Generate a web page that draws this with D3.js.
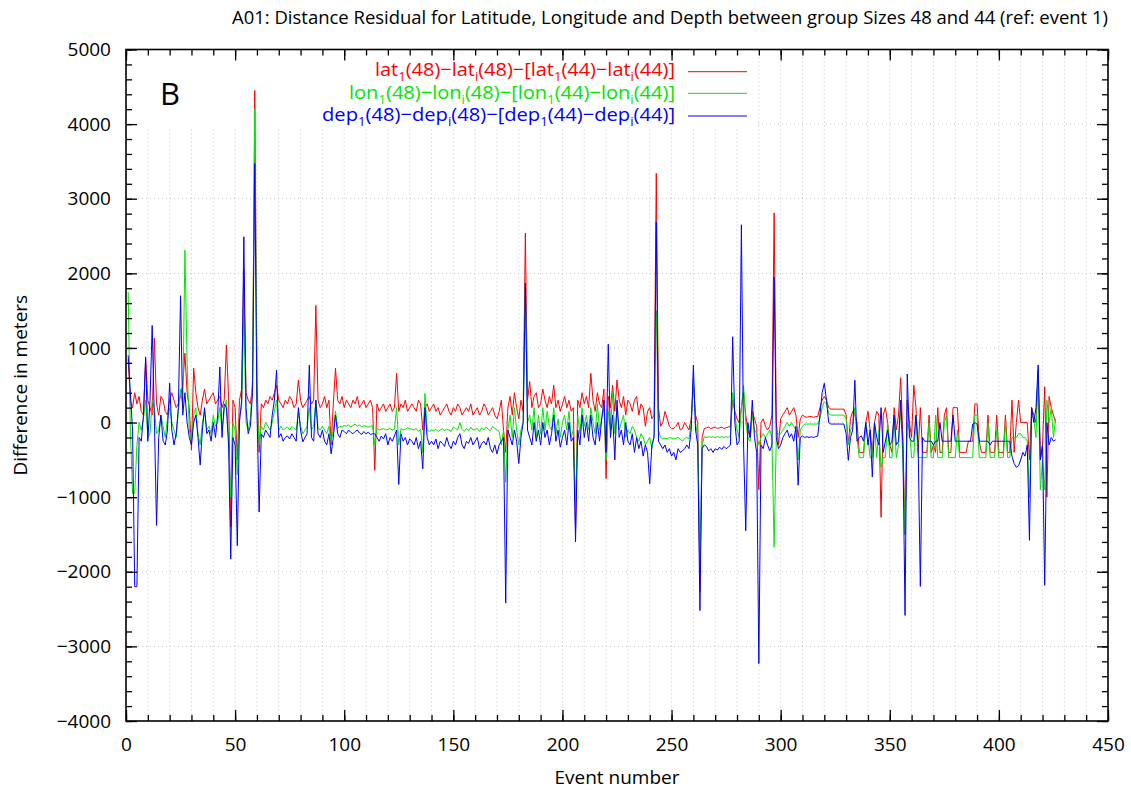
<!DOCTYPE html>
<html>
<head>
<meta charset="utf-8">
<script src="https://cdn.jsdelivr.net/npm/d3@7"></script>
<style>
    body { margin: 0; background: #fff; }
    text { font-family: "Open Sans", "DejaVu Sans", sans-serif; }
</style>
</head>
<body>
<svg id="chart" width="1131" height="790"></svg>
<script>
// tick values
const xTicks = [0, 50, 100, 150, 200, 250, 300, 350, 400, 450];
const yTicks = [-4000, -3000, -2000, -1000, 0, 1000, 2000, 3000, 4000, 5000];

// events 1..426
const eventNumbers = d3.range(1, 427);

// lat1(48)-lati(48)-[lat1(44)-lati(44)]
const latResidual = [
    850, 300, 200, 400, 250, 350, 150, 100, 850, 300,
    200, 100, 1130, 250, 100, 350, 300, 150, 100, 300,
    400, 300, 200, 250, 350, 500, 930, 400, 200, -370,
    730, 400, 200, 100, 300, 450, 250, 300, 350, 400,
    250, 300, 350, 200, 300, 1040, 350, -1400, 300, 200,
    -500, 300, 450, 2050, 400, 300, 250, 500, 4450, 600,
    -400, 250, 200, 300, 250, 350, 300, 400, 500, 300,
    250, 200, 300, 250, 350, 300, 200, 250, 570, 300,
    200, 250, 300, 350, 250, 300, 1570, 300, 200, 250,
    350, 200, 300, -300, 250, 730, 300, 250, 350, 200,
    300, 250, 200, 300, 250, 350, 200, 250, 300, 200,
    250, 300, 200, -640, 250, 150, 200, 250, 150, 200,
    250, 150, 200, 660, 150, 250, 200, 300, 150, 200,
    250, 200, 150, 300, 250, -100, 200, 250, 150, 200,
    250, 150, 200, 100, 150, 200, 250, 150, 100, 200,
    150, 250, 200, 100, 150, 200, 150, 250, 100, 150,
    200, 100, 150, 250, 200, 100, 150, 200, 100, 50,
    150, 300, -100, -400, 200, 350, 100, 400, 200, 50,
    300, 150, 2540, 300, 550, 200, 350, 400, 200, 250,
    450, 300, 200, 350, 250, 500, 200, 300, 150, 250,
    350, 200, 300, 150, 200, -1450, 300, 200, 400, 250,
    350, 200, 660, 300, 150, 400, 250, 200, 450, -750,
    350, 200, 500, 150, 570, 300, 200, 350, 100, 300,
    250, 150, 300, 350, 100, 250, 200, -50, 150, 200,
    50, 100, 3340, 200, -50, 0, 150, 50, -50, -80,
    -80, -50, 0, -100, -80, 0, -50, -100, 50, 500,
    100, 0, -2270, -200, -80, -70, -60, -80, -70, -60,
    -80, -70, -60, -80, -70, -60, -50, 300, 150, 50,
    0, 200, 400, 100, -100, -200, 150, 50, -50, -900,
    0, 50, -50, -100, -50, 100, 2810, 0, -300, 50,
    100, 150, 200, 100, 150, 200, 100, -200, 50, 100,
    80, 70, 80, 80, 70, 80, 80, 200, 300, 350,
    300, 200, 180, 180, 180, 180, 180, 180, 180, 100,
    -300, 50, 150, 100, 0, -400, -400, -400, 0, 150,
    -100, -400, 0, 150, 100, -1270, 100, 200, 0, -300,
    -400, 200, -100, 100, 600, -200, -1500, 300, 0, -200,
    500, 200, -400, 200, -400, -400, -400, 100, -400, -300,
    -400, 200, -400, -400, 100, 200, -400, -400, 200, 200,
    200, -400, -400, -400, -400, -250, -250, -250, 250, 250,
    -250, -400, -400, -400, 100, -400, -400, -400, 100, -400,
    -400, -400, 100, -400, -400, 300, -400, 0, 300, 0,
    0, 0, 0, -500, 200, 100, 0, 700, -500, -300,
    480, -1000, 350, 200, 100, 0
];

// lon1(48)-loni(48)-[lon1(44)-loni(44)]
const lonResidual = [
    1750, -100, -950, -950, -300, 0, -100, 50, 300, -200,
    -150, 300, 200, -150, -100, 100, -50, -200, 50, 200,
    0, -100, -200, 150, 450, 200, 2310, 800, -100, -250,
    100, 200, -150, -300, 0, 150, -100, -50, -150, 100,
    -50, 0, 200, -100, 150, 300, -200, -1000, 0, -100,
    -700, 100, 200, 1500, 0, -100, 50, 600, 4200, 300,
    -300, -50, -100, 0, -50, -100, 0, 150, 300, -100,
    -50, -100, -80, -60, -100, -50, -80, -100, 150, -50,
    -150, -100, -50, 200, -100, -50, 300, -80, -100, -50,
    -100, -150, -50, -250, -100, 150, -80, -50, -60, -40,
    -50, -30, -60, -40, -20, -50, -30, -60, -40, -50,
    -60, -50, -40, -300, -80, -100, -90, -80, -100, -90,
    -80, -100, -90, 200, -300, -80, -100, -90, -70, -80,
    -90, -100, -80, -120, -90, -400, 390, -100, -120, -100,
    -110, -90, -120, -100, -80, -110, -90, -100, -120, -60,
    -80, -100, 0, -90, -120, -80, -110, -60, -100, -90,
    -80, -120, -70, -100, -60, -90, -110, -50, -80, -100,
    -120, -300, -100, -800, -100, 100, -200, 200, -100, -300,
    -100, 0, 1800, 0, 100, -100, 200, -200, 100, -150,
    200, -100, 150, -50, -100, 200, -150, 50, -200, 0,
    100, -100, 150, -200, -100, -1200, 100, -150, 200, -50,
    100, -100, 200, 0, -150, 250, -100, 50, 200, -500,
    150, -100, 400, -150, 200, -100, 0, 100, -200, -100,
    -150, -50, -100, -200, -250, -150, -200, -300, -250, -200,
    -350, -150, 1500, -100, -200, -220, -210, -220, -200, -210,
    -220, -210, -200, -220, -250, -210, -200, -220, 0, 600,
    0, -200, -1900, -300, -190, -200, -190, -200, -190, -200,
    -190, -200, -190, -200, -190, -200, -180, 400, 100, -100,
    -200, 200, 500, 0, -200, -250, 100, -100, -150, -300,
    -200, -150, -200, -150, -100, -200, -1670, -200, -150, -150,
    -100, -50, 0, -50, 0, -50, -100, -500, -100, -50,
    -20, -20, -20, -20, -20, -20, -20, 50, 200, 280,
    250, 120, 100, 100, 100, 100, 100, 100, 100, 50,
    -300, -100, -50, 200, -200, -470, -470, -470, 0, -200,
    -470, -470, 0, -470, -100, -600, -470, -470, 0, -470,
    -470, 0, -470, -300, 200, -470, -1500, 0, -100, -470,
    -470, 100, -470, -470, -470, -470, -470, 0, -470, -470,
    100, -470, -470, -470, 0, 100, -470, -470, -470, -470,
    -100, -470, -470, -470, -470, -470, -470, -470, 100, 100,
    -470, -470, -470, -470, 0, -470, -470, -470, -100, -470,
    -470, -470, 0, -470, -470, -200, -200, -200, -150, -150,
    -200, -200, -250, -1000, 100, 50, -200, 700, -900, -500,
    -900, 300, 0, 200, -200, 50
];

// dep1(48)-depi(48)-[dep1(44)-depi(44)]
const depResidual = [
    900, 400, -100, -2200, -2200, -200, -250, 100, 880, -250,
    300, 1300, 50, -1380, -200, 100, -250, -300, -100, 530,
    -100, -300, -150, 200, 1700, 100, 400, 0, -200, -300,
    0, 100, -200, -570, -100, 200, -150, -100, -250, 0,
    -200, 100, 745, -200, 250, 200, -300, -1830, -200, -300,
    -1650, 0, 300, 2490, 200, -150, -50, 400, 3470, 200,
    -1200, -150, -200, -100, -150, -200, 100, 300, 700, -200,
    -150, -250, -200, -180, -220, -150, -200, -250, 200, -100,
    -260, -200, -150, 770, -200, -250, 300, -150, -200, -100,
    -250, -300, -150, -420, -200, 100, -150, -200, -100, -120,
    -150, -100, -130, -150, -120, -100, -140, -160, -120, -150,
    -130, -160, -150, -150, -200, -250, -180, -220, -150, -300,
    -200, -250, -180, -100, -830, -150, -250, -200, -300, -220,
    -250, -300, -200, -350, -250, -620, 200, -200, -300, -250,
    -300, -220, -350, -250, -280, -320, -200, -300, -350, -250,
    -300, -200, -150, -300, -350, -250, -280, -200, -300, -250,
    -200, -350, -280, -250, -300, -200, -350, -400, -300, -420,
    -300, -250, -200, -2420, -100, -200, -300, -100, -250, -550,
    -200, 0, 1870, -100, -200, -300, 0, -250, -100, -300,
    0, -200, -100, -300, -150, 100, -250, -100, -330, -200,
    -100, -300, 0, -250, -200, -1600, -100, -300, 100, -200,
    0, -250, 100, -200, -300, 0, -250, 50, 300, -400,
    1050, -200, 100, -500, 300, -200, -100, -300, 0, -250,
    -300, -150, -400, -200, -350, -250, -450, -300, -400, -820,
    -300, -200, 2690, -250, -300, -350, -300, -400, -350, -450,
    -400, -500, -350, -400, -380, -350, -300, -350, -100, 770,
    -100, -300, -2520, -350, -300, -320, -380, -350, -400, -350,
    -370, -330, -360, -320, -350, -330, -300, 1150, 0, -300,
    -250, 2650, -300, -1450, 0, -200, 300, -200, -400, -3230,
    -300, -350, -200, -300, -380, -300, 1950, -200, -350, -300,
    -200, -150, -100, -200, -150, -250, -50, -840, -200, -180,
    -200, -190, -200, -190, -200, -190, -180, 100, 400, 527,
    300, 0, -20, -20, -20, -20, -20, -20, -20, -150,
    -506, -200, -100, 567, -250, -200, -180, -250, 0, -300,
    -100, -730, 0, -200, -300, 200, -400, -250, -100, -300,
    -250, 100, -300, -250, 300, -300, -2585, 650, -200, -250,
    -250, 100, -300, -2196, -200, -250, -250, -250, -250, -300,
    -250, -250, 0, -250, -250, -250, -250, -250, 100, -250,
    -250, -250, -250, -250, -250, -250, -250, -20, 0, -20,
    -250, -250, -250, -250, -250, -300, -250, -250, -250, -250,
    -250, -250, -250, -250, -250, -450, -550, -600, -580, -500,
    -400, -450, -300, -1578, 200, 0, 200, 770, -500, -300,
    -2182, 0, -300, -200, -250, -230
];

const seriesColors = ["#ff0000", "#00e600", "#0000ff"];
const legendNames = ["lat", "lon", "dep"];

const svg = d3.select("#chart");
const plotLeft = 126, plotRight = 1108, plotTop = 49.5, plotBottom = 721;

const x = d3.scaleLinear().domain([0, 450]).range([plotLeft, plotRight]);
const y = d3.scaleLinear().domain([-4000, 5000]).range([plotBottom, plotTop]);

svg.append("rect").attr("width", 1131).attr("height", 790).attr("fill", "#fff");

// dotted grid: every 10 events, every 1000 m
const grid = svg.append("g").attr("class", "grid")
    .attr("stroke", "#b4b4b4").attr("stroke-width", 0.8).attr("stroke-dasharray", "1,3");
grid.selectAll(".vg").data(d3.range(10, 450, 10)).join("line")
    .attr("x1", d => x(d)).attr("x2", d => x(d))
    .attr("y1", plotTop).attr("y2", plotBottom);
grid.selectAll(".hg").data(yTicks.slice(1, -1)).join("line")
    .attr("x1", plotLeft).attr("x2", plotRight)
    .attr("y1", d => y(d)).attr("y2", d => y(d));

// key box hides the grid in the top left
svg.append("rect")
    .attr("x", plotLeft).attr("y", plotTop)
    .attr("width", 755 - plotLeft).attr("height", 127 - plotTop)
    .attr("fill", "#fff");

// legend
const legendY = [76, 98.5, 121];
const lineY = [71.7, 93.3, 116];
const legendWidth = [300, 326, 353];
legendNames.forEach((name, k) => {
    const parts = [
        [name, 0], ["1", 1], ["(48)\u2212" + name, 0], ["i", 1],
        ["(48)\u2212[" + name, 0], ["1", 1], ["(44)\u2212" + name, 0], ["i", 1], ["(44)]", 0]
    ];
    const t = svg.append("text")
        .attr("x", 675 - legendWidth[k]).attr("y", legendY[k])
        .attr("font-size", 19)
        .attr("textLength", legendWidth[k]).attr("lengthAdjust", "spacingAndGlyphs")
        .attr("fill", seriesColors[k]);
    let shifted = false;
    parts.forEach(p => {
        const ts = t.append("tspan").text(p[0]);
        if (p[1] && !shifted) { ts.attr("dy", 5).attr("font-size", 12.5); shifted = true; }
        else if (!p[1] && shifted) { ts.attr("dy", -5); shifted = false; }
        else if (p[1]) ts.attr("font-size", 12.5);
    });
    svg.append("line")
        .attr("x1", 688).attr("x2", 747)
        .attr("y1", lineY[k]).attr("y2", lineY[k])
        .attr("stroke", seriesColors[k]).attr("stroke-width", 1);
});

svg.append("text")
    .attr("x", 160).attr("y", 105)
    .attr("font-size", 31)
    .text("B");

// data lines
const line = d3.line()
    .x((d, i) => x(eventNumbers[i]))
    .y(d => y(d));

[latResidual, lonResidual, depResidual].forEach((vals, k) => {
    svg.append("path")
        .datum(vals)
        .attr("fill", "none")
        .attr("stroke", seriesColors[k])
        .attr("stroke-width", 1)
        .attr("stroke-linejoin", "round")
        .attr("d", line);
});

// axes, ticks inward on all four sides
const minus = s => String(s).replace("-", "\u2212");
const xMinor = d3.range(0, 451, 10);
const yMinor = d3.range(-4000, 5001, 200);

function styleAxis(g, showText) {
    g.select(".domain").remove();
    g.selectAll(".tick line").attr("stroke", "#000").attr("stroke-width", 1.3);
    g.attr("font-family", null).attr("font-size", 19);
    g.selectAll(".tick text").attr("fill", "#000");
    if (!showText) g.selectAll(".tick text").remove();
}

svg.append("g").attr("transform", `translate(0,${plotBottom})`)
    .call(d3.axisBottom(x).tickValues(xMinor).tickSize(-6).tickFormat(""))
    .call(g => styleAxis(g, false));
svg.append("g").attr("transform", `translate(0,${plotBottom})`)
    .call(d3.axisBottom(x).tickValues(xTicks).tickSize(-11).tickPadding(17))
    .call(g => styleAxis(g, true));
svg.append("g").attr("transform", `translate(0,${plotTop})`)
    .call(d3.axisTop(x).tickValues(xMinor).tickSize(-6).tickFormat(""))
    .call(g => styleAxis(g, false));
svg.append("g").attr("transform", `translate(0,${plotTop})`)
    .call(d3.axisTop(x).tickValues(xTicks).tickSize(-11).tickFormat(""))
    .call(g => styleAxis(g, false));

svg.append("g").attr("transform", `translate(${plotLeft},0)`)
    .call(d3.axisLeft(y).tickValues(yMinor).tickSize(-6).tickFormat(""))
    .call(g => styleAxis(g, false));
svg.append("g").attr("transform", `translate(${plotLeft},0)`)
    .call(d3.axisLeft(y).tickValues(yTicks).tickSize(-11).tickPadding(15).tickFormat(minus))
    .call(g => styleAxis(g, true));
svg.append("g").attr("transform", `translate(${plotRight},0)`)
    .call(d3.axisRight(y).tickValues(yMinor).tickSize(-6).tickFormat(""))
    .call(g => styleAxis(g, false));
svg.append("g").attr("transform", `translate(${plotRight},0)`)
    .call(d3.axisRight(y).tickValues(yTicks).tickSize(-11).tickFormat(""))
    .call(g => styleAxis(g, false));

// frame
svg.append("rect")
    .attr("x", plotLeft).attr("y", plotTop)
    .attr("width", plotRight - plotLeft).attr("height", plotBottom - plotTop)
    .attr("fill", "none").attr("stroke", "#000").attr("stroke-width", 1.6);

// titles
svg.append("text")
    .attr("x", 232).attr("y", 24)
    .attr("font-size", 18)
    .attr("textLength", 876).attr("lengthAdjust", "spacingAndGlyphs")
    .text("A01: Distance Residual for Latitude, Longitude and Depth between group Sizes 48 and 44 (ref: event 1)");

svg.append("text")
    .attr("x", (plotLeft + plotRight) / 2).attr("y", 784)
    .attr("text-anchor", "middle").attr("font-size", 19)
    .text("Event number");

svg.append("text")
    .attr("transform", `translate(27,${(plotTop + plotBottom) / 2}) rotate(-90)`)
    .attr("text-anchor", "middle").attr("font-size", 19)
    .text("Difference in meters");
</script>
</body>
</html>
